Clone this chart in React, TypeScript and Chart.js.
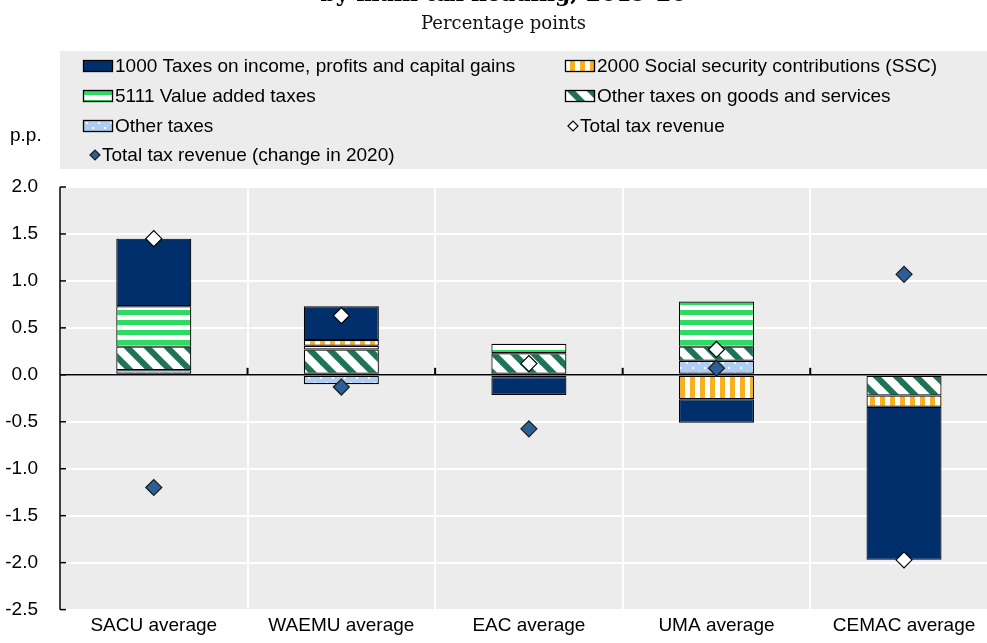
import React, { useEffect, useRef } from "react";
import { Chart, registerables } from "chart.js";

Chart.register(...registerables);

// ---- Data ----
const categories = ["SACU average", "WAEMU average", "EAC average", "UMA average", "CEMAC average"];
const otherTaxes = [0.05, -0.1, null, 0.15, null];
const otherGoodsServices = [0.25, 0.27, 0.23, 0.15, -0.22];
const valueAddedTaxes = [0.43, 0.04, 0.1, 0.48, null];
const socialSecurity = [null, 0.06, -0.025, -0.26, -0.12];
const incomeTaxes = [0.72, 0.36, -0.19, -0.25, -1.63];
const totalTaxRevenue = [1.45, 0.63, 0.12, 0.27, -1.97];
const totalTaxChange2020 = [-1.2, -0.13, -0.575, 0.07, 1.07];

const yMin = -2.5;
const yMax = 2.0;
const yStep = 0.5;

const labelIncome = "1000 Taxes on income, profits and capital gains";
const labelSSC = "2000 Social security contributions (SSC)";
const labelVAT = "5111 Value added taxes";
const labelOtherGS = "Other taxes on goods and services";
const labelOther = "Other taxes";
const labelTotal = "Total tax revenue";
const labelChange = "Total tax revenue (change in 2020)";

const titleText = "by main tax heading, 2019-20";
const subtitleText = "Percentage points";
const yUnitText = "p.p.";

// ---- Styles ----
const NAVY = "#002F6C";
const GREEN = "#2EDB62";
const ORANGE = "#F9B01F";
const DKGREEN = "#1E7256";
const LIGHTBLUE = "#AECDF0";
const CHANGE_BLUE = "#2B5F96";
const PLOT_BG = "#ECECEC";
const FONT = '"Liberation Sans", Arial, sans-serif';
const CANVAS_W = 1007;
const CANVAS_H = 643;

function makePattern(w: number, h: number, draw: (g: CanvasRenderingContext2D) => void): CanvasPattern | string {
  const c = document.createElement("canvas");
  c.width = w;
  c.height = h;
  const g = c.getContext("2d");
  if (!g) return "#999";
  draw(g);
  return g.createPattern(c, "repeat") || "#999";
}

function buildPatterns() {
  const vat = makePattern(10, 10, (g) => {
    g.fillStyle = "#fff";
    g.fillRect(0, 0, 10, 10);
    g.fillStyle = GREEN;
    g.fillRect(0, 0, 10, 5);
  });
  const ssc = makePattern(10, 10, (g) => {
    g.fillStyle = "#fff";
    g.fillRect(0, 0, 10, 10);
    g.fillStyle = ORANGE;
    g.fillRect(0, 0, 5, 10);
  });
  const otherGS = makePattern(20, 20, (g) => {
    g.fillStyle = "#fff";
    g.fillRect(0, 0, 20, 20);
    g.strokeStyle = DKGREEN;
    g.lineWidth = 6;
    for (let k = -1; k <= 1; k++) {
      g.beginPath();
      g.moveTo(-5 + k * 20, -5);
      g.lineTo(25 + k * 20, 25);
      g.stroke();
    }
  });
  const other = makePattern(12, 10, (g) => {
    g.fillStyle = LIGHTBLUE;
    g.fillRect(0, 0, 12, 10);
    g.fillStyle = "rgba(255,255,255,0.85)";
    g.fillRect(2, 2, 2, 2);
    g.fillRect(8, 7, 2, 2);
  });
  return { vat, ssc, otherGS, other };
}

function diamond(ctx: CanvasRenderingContext2D, x: number, y: number, r: number, fill: string, stroke: string) {
  ctx.beginPath();
  ctx.moveTo(x - r, y);
  ctx.lineTo(x, y - r);
  ctx.lineTo(x + r, y);
  ctx.lineTo(x, y + r);
  ctx.closePath();
  ctx.fillStyle = fill;
  ctx.fill();
  ctx.strokeStyle = stroke;
  ctx.lineWidth = 1.2;
  ctx.stroke();
}

export default function App() {
  const ref = useRef<HTMLCanvasElement>(null);

  useEffect(() => {
    if (!ref.current) return;
    const p = buildPatterns();

    const legendLeft: any[] = [
      { kind: "box", fill: NAVY, label: labelIncome },
      { kind: "box", fill: p.vat, label: labelVAT },
      { kind: "box", fill: p.other, label: labelOther },
      { kind: "diamond", fill: CHANGE_BLUE, stroke: "#1b1b1b", label: labelChange },
    ];
    const legendRight: any[] = [
      { kind: "box", fill: p.ssc, label: labelSSC },
      { kind: "box", fill: p.otherGS, label: labelOtherGS },
      { kind: "diamond", fill: "#fff", stroke: "#000", label: labelTotal },
    ];
    const rowY = [66, 96, 126, 155];

    const decor = {
      id: "decor",
      beforeDraw(chart: any) {
        const { ctx, chartArea: a } = chart;
        ctx.save();
        ctx.fillStyle = "#fff";
        ctx.fillRect(0, 0, chart.width, chart.height);
        // legend box
        ctx.fillStyle = PLOT_BG;
        ctx.fillRect(a.left, 51, a.right - a.left, 118);
        // plot bg
        ctx.fillRect(a.left, a.top, a.right - a.left, a.bottom - a.top);

        // title (cropped at top) and subtitle
        ctx.fillStyle = "#000";
        ctx.textAlign = "center";
        ctx.textBaseline = "alphabetic";
        ctx.font = 'bold 22px "DejaVu Serif", serif';
        ctx.fillText(titleText, CANVAS_W / 2, 1);
        ctx.font = '18px "DejaVu Serif", serif';
        ctx.fillStyle = "#111";
        ctx.fillText(subtitleText, CANVAS_W / 2, 29);

        // y unit
        ctx.textAlign = "left";
        ctx.fillStyle = "#000";
        ctx.font = `19px ${FONT}`;
        ctx.fillText(yUnitText, 10, 141);

        // legend
        const drawCol = (items: any[], boxX: number, diaX: number) => {
          items.forEach((it, i) => {
            const y = rowY[i];
            if (it.kind === "box") {
              ctx.fillStyle = it.fill;
              ctx.fillRect(boxX, y - 6, 30, 12);
              ctx.strokeStyle = "#000";
              ctx.lineWidth = 1.3;
              ctx.strokeRect(boxX + 0.5, y - 5.5, 29, 11);
              ctx.fillStyle = "#000";
              ctx.textAlign = "left";
              ctx.textBaseline = "middle";
              ctx.font = `19px ${FONT}`;
              ctx.fillText(it.label, boxX + 32, y + 1);
            } else {
              diamond(ctx, diaX, y, 5, it.fill, it.stroke);
              ctx.fillStyle = "#000";
              ctx.textAlign = "left";
              ctx.textBaseline = "middle";
              ctx.font = `19px ${FONT}`;
              ctx.fillText(it.label, diaX + 7, y + 1);
            }
          });
        };
        drawCol(legendLeft, 83, 95);
        drawCol(legendRight, 565, 573);
        ctx.restore();
      },
      beforeDatasetsDraw(chart: any) {
        const { ctx, chartArea: a, scales } = chart;
        const ys = scales.y;
        const xs = scales.x;
        const y0 = ys.getPixelForValue(0);
        ctx.save();
        ctx.strokeStyle = "#000";
        // y axis line
        ctx.lineWidth = 1.5;
        ctx.beginPath();
        ctx.moveTo(a.left, a.top);
        ctx.lineTo(a.left, a.bottom);
        ctx.stroke();
        // inward ticks
        for (let v = yMin; v <= yMax + 1e-9; v += yStep) {
          const py = ys.getPixelForValue(v);
          ctx.beginPath();
          ctx.moveTo(a.left, py);
          ctx.lineTo(a.left + 6, py);
          ctx.stroke();
        }
        // zero line
        ctx.beginPath();
        ctx.moveTo(a.left, y0);
        ctx.lineTo(a.right, y0);
        ctx.stroke();
        // category ticks on zero line
        ctx.lineWidth = 2;
        for (let i = 1; i < categories.length; i++) {
          const px = (xs.getPixelForValue(i - 1) + xs.getPixelForValue(i)) / 2;
          ctx.beginPath();
          ctx.moveTo(px, y0);
          ctx.lineTo(px, y0 - 7);
          ctx.stroke();
        }
        ctx.restore();
      },
    };

    const barCommon = {
      type: "bar" as const,
      stack: "bars",
      borderColor: "#000",
      borderWidth: 1.2,
      borderSkipped: false,
      barPercentage: 0.4,
      categoryPercentage: 1.0,
      order: 1,
    };

    const chart = new Chart(ref.current, {
      type: "bar",
      data: {
        labels: categories,
        datasets: [
          { ...barCommon, label: labelOther, data: otherTaxes, backgroundColor: p.other },
          { ...barCommon, label: labelOtherGS, data: otherGoodsServices, backgroundColor: p.otherGS },
          { ...barCommon, label: labelVAT, data: valueAddedTaxes, backgroundColor: p.vat },
          { ...barCommon, label: labelSSC, data: socialSecurity, backgroundColor: p.ssc },
          { ...barCommon, label: labelIncome, data: incomeTaxes, backgroundColor: NAVY },
          {
            type: "line",
            label: labelChange,
            data: totalTaxChange2020,
            stack: "change",
            showLine: false,
            pointStyle: "rectRot",
            pointRadius: 8,
            pointBackgroundColor: CHANGE_BLUE,
            pointBorderColor: "#1b1b1b",
            pointBorderWidth: 1.2,
            order: 0,
          } as any,
          {
            type: "line",
            label: labelTotal,
            data: totalTaxRevenue,
            stack: "total",
            showLine: false,
            pointStyle: "rectRot",
            pointRadius: 8,
            pointBackgroundColor: "#fff",
            pointBorderColor: "#000",
            pointBorderWidth: 1.2,
            order: 0,
          } as any,
        ],
      },
      options: {
        animation: false,
        responsive: false,
        devicePixelRatio: 1,
        events: [],
        layout: { padding: { top: 187, left: 0, right: 7, bottom: 0 } },
        plugins: {
          legend: { display: false },
          tooltip: { enabled: false },
          title: { display: false },
        },
        scales: {
          x: {
            stacked: true,
            offset: true,
            grid: { color: "#fff", lineWidth: 2, offset: true, drawTicks: false },
            border: { display: false },
            ticks: { color: "#000", font: { family: FONT, size: 19 }, padding: 5, maxRotation: 0 },
            afterFit: (s: any) => {
              s.height = 30;
            },
          },
          y: {
            stacked: true,
            min: yMin,
            max: yMax,
            grid: { color: "#fff", lineWidth: 2, drawTicks: false },
            border: { display: false },
            ticks: {
              stepSize: yStep,
              color: "#000",
              font: { family: FONT, size: 19 },
              padding: 22,
              callback: (v: any) => Number(v).toFixed(1),
            },
            afterFit: (s: any) => {
              s.width = 60;
            },
          },
        },
      },
      plugins: [decor],
    } as any);

    return () => chart.destroy();
  }, []);

  return (
    <div
      style={{
        position: "absolute",
        left: 0,
        top: 0,
        width: 987,
        height: 643,
        overflow: "hidden",
        background: "#fff",
      }}
    >
      <canvas
        ref={ref}
        width={CANVAS_W}
        height={CANVAS_H}
        style={{ display: "block", width: CANVAS_W, height: CANVAS_H }}
      />
    </div>
  );
}
